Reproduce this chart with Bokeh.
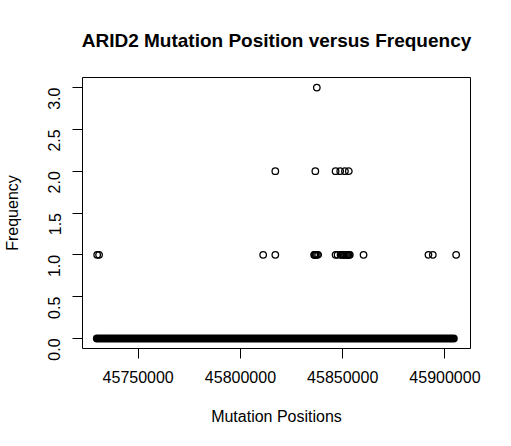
import math

from bokeh.plotting import figure
from bokeh.models import Range1d, FixedTicker, BasicTickFormatter, PrintfTickFormatter
from bokeh.embed import file_html
from bokeh.resources import INLINE

# mutated positions and how often each was seen
positions = [
    45729950, 45730870,
    45811110, 45817050,
    45836040, 45836280, 45836570, 45836860, 45837440, 45838020,
    45846520, 45847490, 45848940, 45849520, 45850050, 45850580,
    45851110, 45851640, 45852170, 45852710, 45853090, 45853480,
    45860190, 45891930, 45894060, 45905460,
    45817050, 45836620, 45846520, 45848790, 45851110, 45852990,
    45837340,
]
frequency = [
    1, 1,
    1, 1,
    1, 1, 1, 1, 1, 1,
    1, 1, 1, 1, 1, 1,
    1, 1, 1, 1, 1, 1,
    1, 1, 1, 1,
    2, 2, 2, 2, 2, 2,
    3,
]

# every other position in the scanned span has frequency 0
zero_span = [45729800, 45904300]
zero_freq = [0, 0]

x_ticks = [45750000, 45800000, 45850000, 45900000]
y_ticks = [0.0, 0.5, 1.0, 1.5, 2.0, 2.5, 3.0]

FONT = "Liberation Sans"

# R style axis limits: data range plus 4% on each side
x_lo = min(min(positions), zero_span[0])
x_hi = max(max(positions), zero_span[1])
x_pad = 0.04 * (x_hi - x_lo)
y_lo, y_hi = 0, max(frequency)
y_pad = 0.04 * (y_hi - y_lo)

p = figure(width=495, height=430, output_backend="svg", toolbar_location=None,
           x_range=Range1d(x_lo - x_pad, x_hi + x_pad),
           y_range=Range1d(y_lo - y_pad, y_hi + y_pad),
           min_border_left=79, min_border_right=25,
           min_border_top=0, min_border_bottom=82,
           title="ARID2 Mutation Position versus Frequency")

p.background_fill_color = "white"
p.border_fill_color = "white"
p.outline_line_color = "black"
p.outline_line_width = 1
p.outline_line_alpha = 1
p.grid.visible = False

p.title.align = "center"
p.title.text_font = FONT
p.title.text_font_size = "19px"
p.title.text_font_style = "bold"
p.title.text_color = "black"
p.title.standoff = 54

# zero-frequency positions overlap into one solid band
p.line(x=zero_span, y=zero_freq, line_width=8, line_cap="round", color="black")
p.scatter(x=positions, y=frequency, marker="circle", size=6.5,
          fill_color=None, line_color="black", line_width=1.3)

for ax in (p.xaxis, p.yaxis):
    ax.axis_line_color = None
    ax.major_tick_out = 10
    ax.major_tick_in = 0
    ax.minor_tick_line_color = None
    ax.major_tick_line_color = "black"
    ax.major_label_text_font = FONT
    ax.major_label_text_font_size = "16px"
    ax.major_label_text_color = "black"
    ax.axis_label_text_font = FONT
    ax.axis_label_text_font_size = "16px"
    ax.axis_label_text_font_style = "normal"
    ax.axis_label_text_color = "black"

p.xaxis.ticker = FixedTicker(ticks=x_ticks)
p.xaxis.formatter = BasicTickFormatter(use_scientific=False)
p.xaxis.axis_label = "Mutation Positions"
p.xaxis.major_label_standoff = 12
p.xaxis.axis_label_standoff = 22

p.yaxis.ticker = FixedTicker(ticks=y_ticks)
p.yaxis.formatter = PrintfTickFormatter(format="%.1f")
p.yaxis.axis_label = "Frequency"
p.yaxis.major_label_orientation = math.pi / 2
p.yaxis.major_label_standoff = 18
p.yaxis.axis_label_standoff = 19

open("out.html", "w").write(file_html(p, INLINE))
